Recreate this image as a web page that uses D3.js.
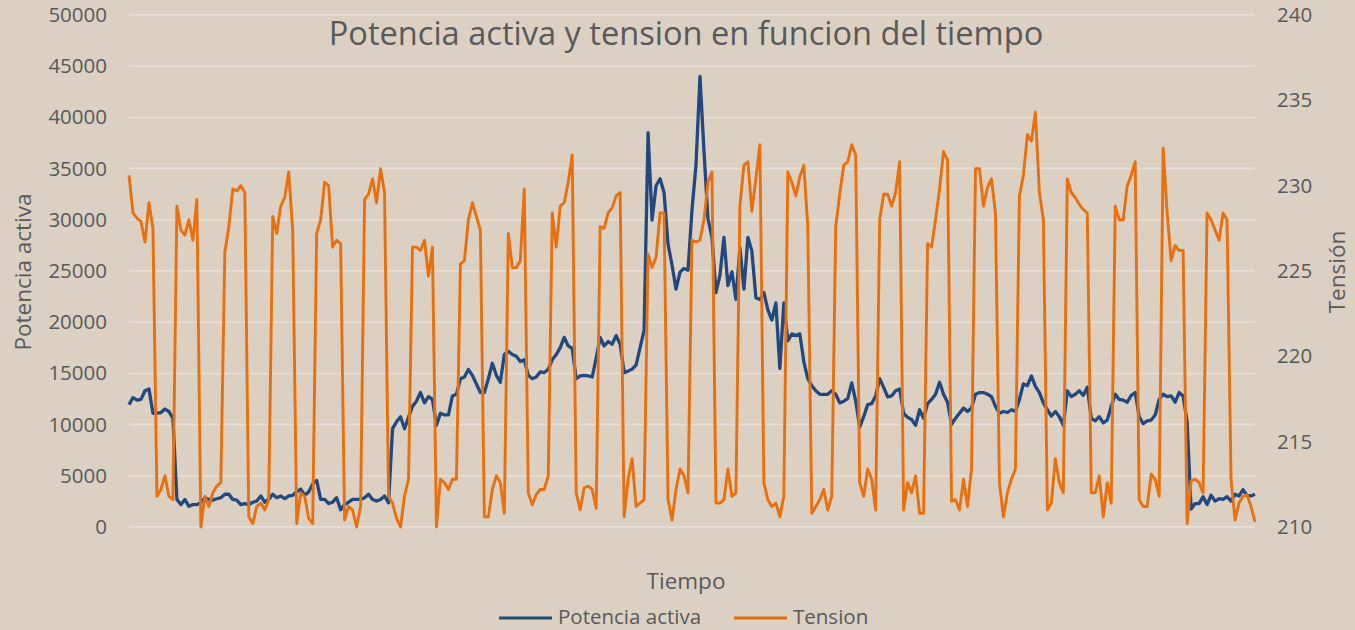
<!DOCTYPE html>
<meta charset="utf-8">
<style>
  body {
    margin: 0;
    background-color: #dcd0c2;
  }
  svg text {
    font-family: "Open Sans", sans-serif;
    fill: #595959;
  }
</style>
<script src="https://d3js.org/d3.v7.min.js"></script>
<body>
<script>

// Tension (V), one reading per sample
var tension = [
  230.6, 228.4, 228.1, 227.9, 226.7, 229.0, 227.5, 211.8, 212.2, 213.0,
  211.8, 211.6, 228.8, 227.4, 227.1, 228.0, 226.8, 229.2, 210.0, 211.8,
  211.2, 212.0, 212.4, 212.6, 226.1, 227.6, 229.8, 229.7, 230.0, 229.6,
  210.6, 210.2, 211.2, 211.4, 211.0, 211.6, 228.2, 227.2, 228.8, 229.3,
  230.8, 227.4, 210.2, 212.0, 211.8, 210.5, 210.2, 227.2, 228.0, 230.2,
  230.0, 226.4, 226.8, 226.6, 210.4, 211.2, 211.0, 210.0, 211.2, 229.2,
  229.5, 230.4, 229.0, 231.0, 229.6, 211.8, 211.4, 210.5, 210.0, 211.8,
  212.8, 226.4, 226.4, 226.2, 226.8, 224.7, 226.4, 210.0, 212.8, 212.6,
  212.2, 212.8, 212.8, 225.4, 225.6, 228.0, 229.0, 228.2, 227.4, 210.6,
  210.6, 212.2, 213.0, 212.6, 210.8, 227.2, 225.2, 225.2, 225.6, 229.8,
  212.0, 211.3, 211.9, 212.2, 212.2, 213.0, 228.4, 226.4, 228.8, 229.0,
  230.2, 231.8, 212.0, 211.0, 212.3, 212.4, 212.2, 211.1, 227.6, 227.5,
  228.4, 228.7, 229.4, 229.6, 210.6, 212.8, 214.0, 211.2, 211.4, 211.6,
  226.0, 225.2, 225.8, 228.4, 228.4, 211.6, 210.4, 212.2, 213.4, 213.0,
  212.0, 226.8, 226.7, 226.8, 228.0, 230.2, 230.8, 211.4, 211.4, 211.6,
  213.4, 211.8, 212.0, 228.8, 231.2, 231.4, 228.5, 230.4, 232.4, 212.6,
  211.6, 211.2, 211.4, 210.6, 211.8, 230.8, 230.2, 229.4, 230.5, 231.2,
  227.6, 210.8, 211.2, 211.6, 212.2, 211.0, 211.8, 227.6, 229.5, 231.2,
  231.4, 232.4, 231.8, 212.6, 211.8, 213.4, 212.8, 211.0, 228.0, 229.5,
  229.5, 228.8, 229.6, 231.4, 211.0, 212.6, 212.0, 213.0, 210.8, 210.8,
  226.6, 226.4, 228.0, 229.8, 232.0, 231.5, 211.5, 211.6, 211.0, 212.8,
  211.2, 213.4, 231.0, 231.0, 228.8, 229.9, 230.4, 228.4, 212.6, 210.6,
  212.0, 212.8, 213.4, 229.4, 230.6, 233.0, 232.6, 234.3, 229.6, 228.0,
  211.0, 211.4, 214.0, 212.6, 212.0, 230.4, 229.6, 229.3, 228.9, 228.6,
  228.4, 212.0, 212.0, 213.0, 210.6, 212.6, 211.4, 228.8, 228.0, 228.0,
  230.0, 230.6, 231.4, 211.6, 211.2, 211.2, 213.1, 212.8, 211.8, 232.2,
  228.4, 225.6, 226.5, 226.2, 226.2, 210.2, 212.7, 212.8, 212.6, 212.0,
  228.4, 228.0, 227.4, 226.8, 228.4, 228.0, 212.8, 210.4, 211.4, 211.8,
  211.9, 211.2, 210.3
];

// Potencia activa (W), same samples
var potencia = [
  11950, 12630, 12390, 12460, 13300, 13470, 11110, 11110, 11180, 11520,
  11280, 10610, 2690, 2190, 2690, 2020, 2190, 2190, 2360, 2860,
  2690, 2630, 2760, 2860, 3200, 3200, 2690, 2630, 2190, 2290,
  2190, 2420, 2530, 3030, 2420, 2690, 3200, 2860, 3030, 2760,
  3030, 3100, 3430, 3700, 3100, 3430, 4210, 4550, 2690, 2690,
  2290, 2420, 2860, 1680, 2190, 2420, 2690, 2690, 2690, 2860,
  3200, 2690, 2530, 2690, 3030, 2360, 9600, 10270, 10770, 9600,
  10710, 11780, 12290, 13130, 12120, 12730, 12460, 9930, 11110, 10940,
  10940, 12800, 12960, 14480, 14650, 15390, 14810, 13970, 13130, 13130,
  14480, 15990, 14810, 14140, 16840, 17170, 16840, 16670, 16160, 16330,
  14810, 14480, 14650, 15150, 15080, 15390, 16330, 16840, 17510, 18520,
  17680, 17440, 14480, 14750, 14810, 14750, 14650, 16500, 18520, 17680,
  18110, 17850, 18690, 17850, 15080, 15220, 15420, 15820, 17510, 19190,
  38500, 29970, 33330, 34010, 32660, 27610, 25590, 23230, 24900, 25250,
  25080, 30980, 35350, 44000, 36700, 30130, 28280, 22900, 24580, 28280,
  23570, 24920, 22220, 27270, 23230, 28280, 26940, 22390, 22220, 22900,
  21210, 20200, 21890, 15490, 21890, 18180, 18860, 18690, 18860, 16160,
  14480, 13800, 13300, 12960, 12960, 12960, 13300, 12960, 12120, 12290,
  12530, 14070, 12290, 9760, 10770, 11950, 12050, 12800, 14480, 13640,
  12700, 12800, 13300, 13470, 11110, 10710, 10500, 9930, 11450, 10610,
  12050, 12460, 12960, 14140, 12960, 12190, 10030, 10610, 11110, 11620,
  11280, 11620, 12960, 13130, 13130, 12960, 12730, 11780, 11110, 11280,
  11180, 11450, 11280, 12460, 13970, 13800, 14750, 13740, 13130, 12120,
  11450, 10840, 11280, 10770, 9930, 13300, 12730, 12960, 13300, 12860,
  13640, 10610, 10370, 10770, 10170, 10440, 11780, 12960, 12460, 12390,
  12190, 12860, 13130, 10770, 10100, 10370, 10440, 10940, 12460, 12960,
  12730, 12800, 12190, 13130, 12800, 10270, 1750, 2290, 2290, 2960,
  2190, 3100, 2530, 2760, 2690, 2960, 2530, 3200, 3030, 3640,
  3100, 3030, 3200
];

var leftTicks = [0, 5000, 10000, 15000, 20000, 25000, 30000, 35000, 40000, 45000, 50000];
var rightTicks = [210, 215, 220, 225, 230, 235, 240];

var width = 1355, height = 630;
var plotLeft = 129, plotRight = 1255, plotTop = 15, plotBottom = 527;

var svg = d3.select("body").append("svg")
    .attr("width", width)
    .attr("height", height);

svg.append("rect")
    .attr("width", width)
    .attr("height", height)
    .attr("fill", "#dcd0c2");

var x = d3.scaleLinear()
    .domain([0, potencia.length - 1])
    .range([plotLeft, plotRight]);

var yLeft = d3.scaleLinear()
    .domain([0, 50000])
    .range([plotBottom, plotTop]);

var yRight = d3.scaleLinear()
    .domain([210, 240])
    .range([plotBottom, plotTop]);

// gridlines
svg.append("g")
    .selectAll("line")
    .data(leftTicks)
    .enter()
    .append("line")
    .attr("x1", plotLeft)
    .attr("x2", plotRight)
    .attr("y1", function(d) { return yLeft(d); })
    .attr("y2", function(d) { return yLeft(d); })
    .attr("stroke", "#e7e0d8")
    .attr("stroke-width", 1.5);

// left axis
var leftAxis = svg.append("g")
    .attr("transform", "translate(" + (plotLeft - 22) + ",0)")
    .call(d3.axisLeft(yLeft).tickValues(leftTicks).tickSize(0).tickPadding(0).tickFormat(d3.format("d")));
leftAxis.select(".domain").remove();
leftAxis.selectAll("text")
    .attr("font-size", "20.5px")
    .attr("font-family", "Open Sans")
    .style("fill", "#595959");

// right axis
var rightAxis = svg.append("g")
    .attr("transform", "translate(" + 1277 + ",0)")
    .call(d3.axisRight(yRight).tickValues(rightTicks).tickSize(0).tickPadding(0));
rightAxis.select(".domain").remove();
rightAxis.selectAll("text")
    .attr("font-size", "20.5px")
    .attr("font-family", "Open Sans")
    .style("fill", "#595959");

// series
var linePot = d3.line()
    .x(function(d, i) { return x(i); })
    .y(function(d) { return yLeft(d); });

var lineTen = d3.line()
    .x(function(d, i) { return x(i); })
    .y(function(d) { return yRight(d); });

svg.append("path")
    .datum(potencia)
    .attr("fill", "none")
    .attr("stroke", "#21497f")
    .attr("stroke-width", 3.3)
    .attr("stroke-linejoin", "round")
    .attr("d", linePot);

svg.append("path")
    .datum(tension)
    .attr("fill", "none")
    .attr("stroke", "#e8700e")
    .attr("stroke-width", 2.9)
    .attr("stroke-linejoin", "round")
    .attr("d", lineTen);

// titles
svg.append("text")
    .attr("x", 686)
    .attr("y", 45)
    .attr("text-anchor", "middle")
    .attr("font-size", "32.6px")
    .text("Potencia activa y tension en funcion del tiempo");

svg.append("text")
    .attr("transform", "translate(31,272) rotate(-90)")
    .attr("text-anchor", "middle")
    .attr("font-size", "22.5px")
    .text("Potencia activa");

svg.append("text")
    .attr("transform", "translate(1345,272) rotate(-90)")
    .attr("text-anchor", "middle")
    .attr("font-size", "22.5px")
    .text("Tensión");

svg.append("text")
    .attr("x", 686)
    .attr("y", 589)
    .attr("text-anchor", "middle")
    .attr("font-size", "22.5px")
    .text("Tiempo");

// legend
var legend = [
  {name: "Potencia activa", color: "#1f4e79", x: 499},
  {name: "Tension", color: "#e46c0a", x: 734}
];

var lg = svg.selectAll(".legend")
    .data(legend)
    .enter()
    .append("g")
    .attr("class", "legend")
    .attr("transform", function(d) { return "translate(" + d.x + ",618)"; });

lg.append("line")
    .attr("x1", 0)
    .attr("x2", 53)
    .attr("stroke", function(d) { return d.color; })
    .attr("stroke-width", 3);

lg.append("text")
    .attr("x", 59)
    .attr("y", 6)
    .attr("font-size", "20.5px")
    .text(function(d) { return d.name; });

</script>
</body>
